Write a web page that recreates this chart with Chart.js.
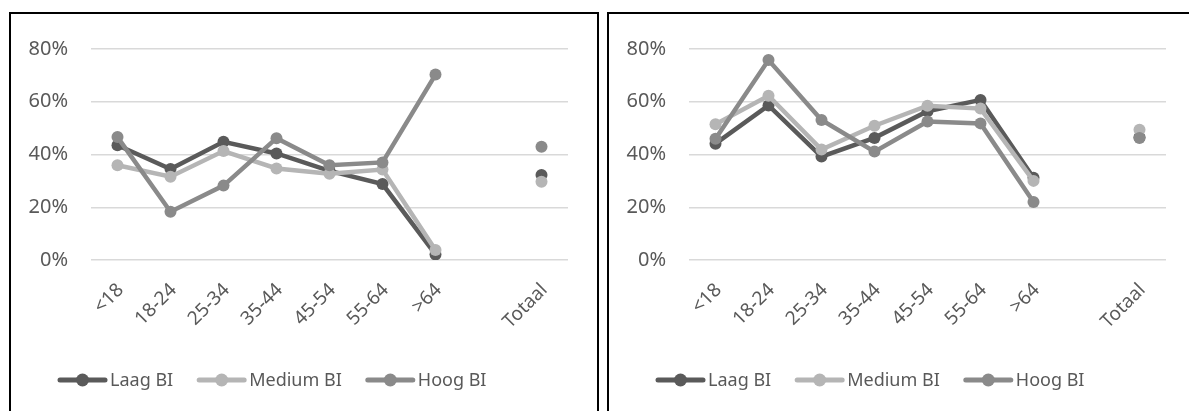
<!DOCTYPE html>
<html>
<head>
<meta charset="utf-8">
<script src="https://cdn.jsdelivr.net/npm/chart.js@4/dist/chart.umd.min.js"></script>
<style>
  html, body { margin: 0; padding: 0; background: #ffffff; overflow: hidden; }
  body { width: 1189px; height: 411px; position: relative; }
  .panel {
    position: absolute;
    top: 12px;
    width: 586px;
    height: 410px;
    border: 2px solid #000000;
    background: #ffffff;
  }
  #panelA { left: 9px; }
  #panelB { left: 607px; }
  .panel canvas { display: block; }
</style>
</head>
<body>
<div class="panel" id="panelA"><canvas id="chartA" width="586" height="410"></canvas></div>
<div class="panel" id="panelB"><canvas id="chartB" width="586" height="410"></canvas></div>
<script>
// Age groups; the empty slot separates the groups from the total
const categories = ['<18', '18-24', '25-34', '35-44', '45-54', '55-64', '>64', '', 'Totaal'];

const seriesNames = ['Laag BI', 'Medium BI', 'Hoog BI'];

// Left panel (percentages)
const laagA   = [43.5, 34.5, 44.8, 40.4, 33.8, 28.8, 2.1, null, 32.2];
const mediumA = [35.9, 31.6, 41.3, 34.7, 32.7, 34.3, 3.8, null, 29.7];
const hoogA   = [46.6, 18.3, 28.2, 46.2, 35.9, 37.0, 70.3, null, 42.9];

// Right panel (percentages)
const laagB   = [44.1, 58.6, 39.2, 46.3, 56.4, 60.7, 31.2, null, 46.5];
const mediumB = [51.5, 62.3, 41.9, 50.9, 58.5, 57.4, 30.0, null, 49.4];
const hoogB   = [46.0, 75.8, 53.1, 41.1, 52.5, 51.8, 22.0, null, 46.3];

const yTicks = [0, 20, 40, 60, 80];

const seriesColors = ['#5a5a5a', '#b5b5b5', '#8a8a8a'];
const textColor = '#595959';
const fontFamily = '"Noto Sans", "Open Sans", sans-serif';

// Legend: line segment with a round marker, followed by the series name
const lineLegend = {
  id: 'lineLegend',
  afterDraw(chart) {
    const ctx = chart.ctx;
    const cy = 366;
    let x = 47;
    ctx.save();
    ctx.font = '18px ' + fontFamily;
    ctx.textBaseline = 'middle';
    ctx.textAlign = 'left';
    chart.data.datasets.forEach((ds) => {
      ctx.strokeStyle = ds.borderColor;
      ctx.fillStyle = ds.borderColor;
      ctx.lineWidth = 5;
      ctx.lineCap = 'round';
      ctx.beginPath();
      ctx.moveTo(x + 2, cy);
      ctx.lineTo(x + 47, cy);
      ctx.stroke();
      ctx.beginPath();
      ctx.arc(x + 24.5, cy, 6.5, 0, Math.PI * 2);
      ctx.fill();
      x += 52;
      ctx.fillStyle = textColor;
      ctx.fillText(ds.label, x, cy + 1);
      x += ctx.measureText(ds.label).width + 24;
    });
    ctx.restore();
  }
};

function makeChart(id, laag, medium, hoog) {
  const values = [laag, medium, hoog];
  const datasets = values.map((data, i) => ({
    label: seriesNames[i],
    data: data,
    borderColor: seriesColors[i],
    backgroundColor: seriesColors[i],
    pointBackgroundColor: seriesColors[i],
    pointBorderColor: seriesColors[i],
    borderWidth: 4.5,
    pointRadius: 6,
    pointBorderWidth: 0,
    tension: 0,
    spanGaps: false,
    order: 2 - i
  }));

  return new Chart(document.getElementById(id), {
    type: 'line',
    data: { labels: categories, datasets: datasets },
    plugins: [lineLegend],
    options: {
      responsive: false,
      animation: false,
      events: [],
      layout: { padding: { left: 0, right: 29, top: 29, bottom: 74 } },
      plugins: {
        legend: { display: false },
        tooltip: { enabled: false }
      },
      scales: {
        x: {
          offset: true,
          grid: { display: false, drawTicks: false },
          border: { display: false },
          afterFit(scale) { scale.height = 90; },
          ticks: {
            autoSkip: false,
            minRotation: 45,
            maxRotation: 45,
            padding: 19,
            labelOffset: 3,
            color: textColor,
            font: { family: fontFamily, size: 19 }
          }
        },
        y: {
          min: 0,
          max: 80,
          afterFit(scale) { scale.width = 80; },
          afterBuildTicks(scale) { scale.ticks = yTicks.map(v => ({ value: v })); },
          grid: { color: '#d9d9d9', lineWidth: 1.5, drawTicks: false },
          border: { display: false },
          ticks: {
            padding: 23,
            color: textColor,
            font: { family: fontFamily, size: 20 },
            callback: (v) => v + '%'
          }
        }
      }
    }
  });
}

function drawAll() {
  makeChart('chartA', laagA, mediumA, hoogA);
  makeChart('chartB', laagB, mediumB, hoogB);
}

// Wait for the typeface so the first paint uses the right metrics
Promise.all([
  document.fonts.load('18px "Noto Sans"'),
  document.fonts.load('20px "Noto Sans"')
]).then(drawAll, drawAll);
</script>
</body>
</html>
